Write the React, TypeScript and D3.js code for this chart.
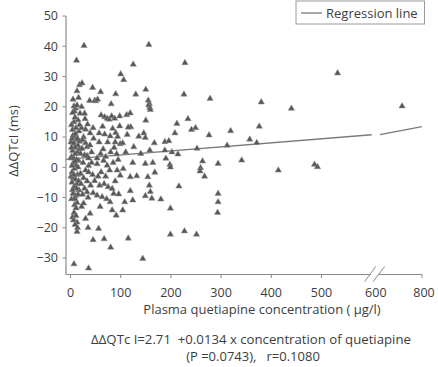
import React from "react";
import * as d3 from "d3";

// ---- data ----
const yTicks: number[] = [50, 40, 30, 20, 10, 0, -10, -20, -30];
const xTicksLow: number[] = [0, 100, 200, 300, 400, 500];
const xTicksHigh: number[] = [800];
const xBreakLabel = "600";
const regressionIntercept = 2.71;
const regressionSlope = 0.0134;
const legendLabel = "Regression line";
const xTitle = "Plasma quetiapine concentration ( μg/l)";
const yTitle = "ΔΔQTcI (ms)";
const equationLine1 = "ΔΔQTc I=2.71  +0.0134 x concentration of quetiapine";
const equationLine2 = "(P =0.0743),   r=0.1080";

// [plasma concentration (µg/l), ΔΔQTcI (ms)]
const observations: [number, number][] = [
  [1, 8.3], [7, 7.7], [15, 7.2], [4, 12.4], [17, 11.9], [11, 13], [22, 13], [18, 14], [7, 15], [15, 15.6],
  [19, 17.8], [8, 18.5], [10, 19.5], [7, 20.2], [5, 22.4], [13, 25.2], [18, 27.2], [23, 27.8], [12, 35.3], [27, 40.2],
  [22, 20], [28, 17.8], [8, 10], [3, 9.5], [12, 9], [6, 8], [9, 6.5], [4, 5.5], [14, 5], [20, 4.5],
  [9, 4.4], [2, 3.5], [16, 2.2], [6, 1.5], [11, 0.5], [3, -1.6], [8, -0.5], [14, -2.5], [20, -2.1], [5, -3.5],
  [10, -4], [3, -5], [13, -5.5], [7, -6.5], [17, -7.6], [5, -8.7], [10, -9.5], [2, -10.5], [13, -11.7], [8, -12.5],
  [11, -13.5], [7, -15], [4, -16.5], [13, -18.2], [9, -19], [14, -20], [13, -21.3], [7, -32],
  [2, 6.5], [5, 10.5], [10, 11], [14, 9.5], [18, 8.5], [1, 3], [6, 3], [12, 2.5], [18, 6], [3, 0.5],
  [9, 2], [15, 0], [1, -3], [7, -2.5], [12, -7], [16, -4.5], [4, -7.5], [9, -10.5], [15, -9], [6, -17.5],
  [11, -16], [2, 14], [9, 16.5], [13, 20.5], [4, 18], [16, 23],
  [44, 26.3], [38, 22], [48, 22], [50, 21.9], [54, 22.4], [34, 14.2], [39, 11.3], [26, 10], [30, 8], [33, 6.7],
  [39, 7.3], [23, 6.2], [28, 4], [33, 3.8], [42, 5], [25, 1.5], [36, 0.5], [30, -1], [36, -1.6], [44, -2.5],
  [26, -3.5], [33, -4.6], [40, -6], [28, -7], [33, -8.2], [45, -8.5], [26, -11.9], [35, -10], [22, -13], [39, -15.3],
  [35, -20], [45, -24], [36, -33.4], [30, -17], [24, 9], [46, 9.5], [30, 12.5], [21, -5.5], [24, -9], [42, 1.5],
  [48, -4.5], [29, 16], [45, 13], [36, 3],
  [60, 24.9], [90, 24.2], [81, 20.9], [61, 17.2], [68, 16.6], [73, 16.1], [77, 15.8], [82, 16.9], [88, 16.1], [98, 16.9],
  [98, 13.6], [57, 11.3], [68, 10.9], [79, 10.3], [90, 11.4], [94, 10.1], [57, 8.3], [74, 8.3], [89, 8.3], [99, 7.7],
  [65, 6], [80, 5], [92, 4.4], [53, 3], [60, 4.5], [70, 3.5], [66, 2.2], [53, 1.1], [73, 0.6], [85, 1.5],
  [95, 2.5], [61, -1.6], [78, -1], [99, -2.7], [55, -3], [67, -5.5], [89, -4.6], [75, -6.5], [83, -7.1], [86, -8.7],
  [96, -8.9], [53, -9.3], [63, -9.8], [72, -10.5], [59, -13], [79, -11.5], [83, -14.2], [91, -15.9], [56, -20.3], [67, -23.7],
  [80, -26.5], [100, 30.8], [106, 28.9], [64, 13.5], [84, 12.8], [70, -3], [93, -1], [58, -6], [87, 6.5],
  [125, 34], [156, 40.5], [130, 24.1], [150, 25.7], [155, 22.1], [157, 21], [156, 20.5], [158, 19.7], [159, 19], [112, 17.3],
  [119, 17.9], [150, 15.5], [120, 13.3], [115, 13.2], [113, 10.8], [136, 10.2], [146, 11.3], [149, 9.8], [126, 6.7], [104, 8],
  [158, 5.6], [110, 5], [140, 4.5], [105, -0.5], [124, 1.5], [149, 1.2], [164, 1.5], [119, -3.2], [132, -2.9], [154, -3.2],
  [168, -1.7], [157, -6], [159, -8.1], [149, -9.5], [162, -10.3], [119, -7.8], [124, -10.9], [104, -14.2], [108, -11.5], [115, -23.5],
  [144, -30.2], [167, 8],
  [228, 34.5], [226, 24.1], [278, 22.7], [234, 16], [212, 14.4], [208, 11.3], [241, 12.4], [249, 13], [276, 10.6], [188, 8.4],
  [196, 8.7], [252, 6.2], [188, 5.6], [202, 5], [214, 4.3], [190, 2.9], [198, 0.9], [199, 0], [263, 2], [259, -0.2],
  [258, -1.3], [267, -3], [294, 1.2], [180, -10.6], [216, -6.3], [199, -13.6], [294, -8.7], [294, -11.5], [293, -15], [199, -22.2],
  [227, -21.1], [251, -22.2],
  [312, 7.2], [319, 12], [341, 2.3], [357, 9.2], [371, 8.1], [376, 13.5], [380, 21.5], [440, 19.4], [414, -1], [486, 0.9],
  [492, 0.1], [532, 31.1], [705, 20.2],
];

const TEXT = "#3d3d3d";
const AXIS = "#8a8a8a";
const FONT = "'Open Sans', 'Noto Sans', sans-serif";

export default function App() {
  const W = 438;
  const H = 367;

  const xLow = d3.scaleLinear().domain([0, 600]).range([70.5, 371.7]);
  const xHigh = d3.scaleLinear().domain([600, 800]).range([380, 422]);
  const x = (v: number) => (v <= 600 ? xLow(v) : xHigh(v));
  const y = d3.scaleLinear().domain([50, -30]).range([16, 258]);

  const axisLeft = 66;
  const axisBottom = 274.5;

  const tri = d3.symbol().type(d3.symbolTriangle).size(17)() as string;

  const regY = (v: number) => y(regressionIntercept + regressionSlope * v);
  const x0 = xLow.invert(axisLeft);
  const seg1 = d3.line()([
    [axisLeft, regY(x0)],
    [xLow(600), regY(600)],
  ]) as string;
  const seg2 = d3.line()([
    [xHigh(600), regY(600)],
    [xHigh(800), regY(800)],
  ]) as string;

  const fmt = (v: number) => (v < 0 ? "\u2212" + Math.abs(v) : String(v));

  const breakX1 = xLow(600);
  const breakX2 = xHigh(600);

  return (
    <svg
      width={W}
      height={H}
      viewBox={`0 0 ${W} ${H}`}
      style={{ position: "absolute", left: 0, top: 0, background: "#fff" }}
      fontFamily={FONT}
    >
      <rect x={0} y={0} width={W} height={H} fill="#fff" />

      {/* y axis */}
      <line x1={axisLeft} x2={axisLeft} y1={y(50)} y2={axisBottom} stroke={AXIS} strokeWidth={1.2} />
      {yTicks.map((t) => (
        <g key={"yt" + t}>
          <line x1={axisLeft - 3.5} x2={axisLeft} y1={y(t)} y2={y(t)} stroke={AXIS} strokeWidth={1} />
          <text x={58} y={y(t)} dy="0.35em" textAnchor="end" fontSize={12.5} fill={TEXT}>
            {fmt(t)}
          </text>
        </g>
      ))}

      {/* x axis with break */}
      <line x1={axisLeft} x2={breakX1 - 1} y1={axisBottom} y2={axisBottom} stroke={AXIS} strokeWidth={1.2} />
      <line x1={breakX2 - 1} x2={xHigh(800)} y1={axisBottom} y2={axisBottom} stroke={AXIS} strokeWidth={1.2} />
      <line x1={breakX1 - 7} y1={axisBottom + 7} x2={breakX1 + 4} y2={axisBottom - 8} stroke={AXIS} strokeWidth={1} />
      <line x1={breakX1 + 1.5} y1={axisBottom + 7} x2={breakX1 + 13} y2={axisBottom - 8} stroke={AXIS} strokeWidth={1} />
      {xTicksLow.map((t) => (
        <g key={"xt" + t}>
          <line x1={xLow(t)} x2={xLow(t)} y1={axisBottom} y2={axisBottom + 3.5} stroke={AXIS} strokeWidth={1} />
          <text x={xLow(t)} y={297} textAnchor="middle" fontSize={12.5} fill={TEXT}>
            {fmt(t)}
          </text>
        </g>
      ))}
      {xTicksHigh.map((t) => (
        <g key={"xh" + t}>
          <line x1={xHigh(t)} x2={xHigh(t)} y1={axisBottom} y2={axisBottom + 3.5} stroke={AXIS} strokeWidth={1} />
          <text x={xHigh(t) + 2} y={297} textAnchor="middle" fontSize={12.5} fill={TEXT}>
            {fmt(t)}
          </text>
        </g>
      ))}
      <text x={(breakX1 + breakX2) / 2} y={297} textAnchor="middle" fontSize={12.5} fill={TEXT}>
        {xBreakLabel}
      </text>

      {/* regression line */}
      <path d={seg1} stroke="#7a7a7a" strokeWidth={1.3} fill="none" />
      <path d={seg2} stroke="#7a7a7a" strokeWidth={1.3} fill="none" />

      {/* points */}
      {observations.map(([cx, cy], i) => (
        <path
          key={i}
          d={tri}
          transform={`translate(${x(cx)},${y(cy)})`}
          fill="#575757"
          stroke="#8f8f8f"
          strokeWidth={0.5}
        />
      ))}

      {/* legend */}
      <rect x={296} y={1} width={128.5} height={23} fill="#fff" stroke="#9a9a9a" strokeWidth={1} />
      <line x1={301} x2={322} y1={13} y2={13} stroke="#7a7a7a" strokeWidth={1.3} />
      <text x={326} y={17.5} fontSize={13} fill={TEXT}>
        {legendLabel}
      </text>

      {/* titles */}
      <text
        transform={`translate(18,${141}) rotate(-90)`}
        textAnchor="middle"
        fontSize={13}
        fill={TEXT}
      >
        {yTitle}
      </text>
      <text x={262} y={313.5} textAnchor="middle" fontSize={13} fill={TEXT}>
        {xTitle}
      </text>
      <text x={251} y={344} textAnchor="middle" fontSize={13.2} fill={TEXT} style={{ whiteSpace: "pre" }}>
        {equationLine1}
      </text>
      <text x={253} y={361} textAnchor="middle" fontSize={13} fill={TEXT} style={{ whiteSpace: "pre" }}>
        {equationLine2}
      </text>
    </svg>
  );
}
